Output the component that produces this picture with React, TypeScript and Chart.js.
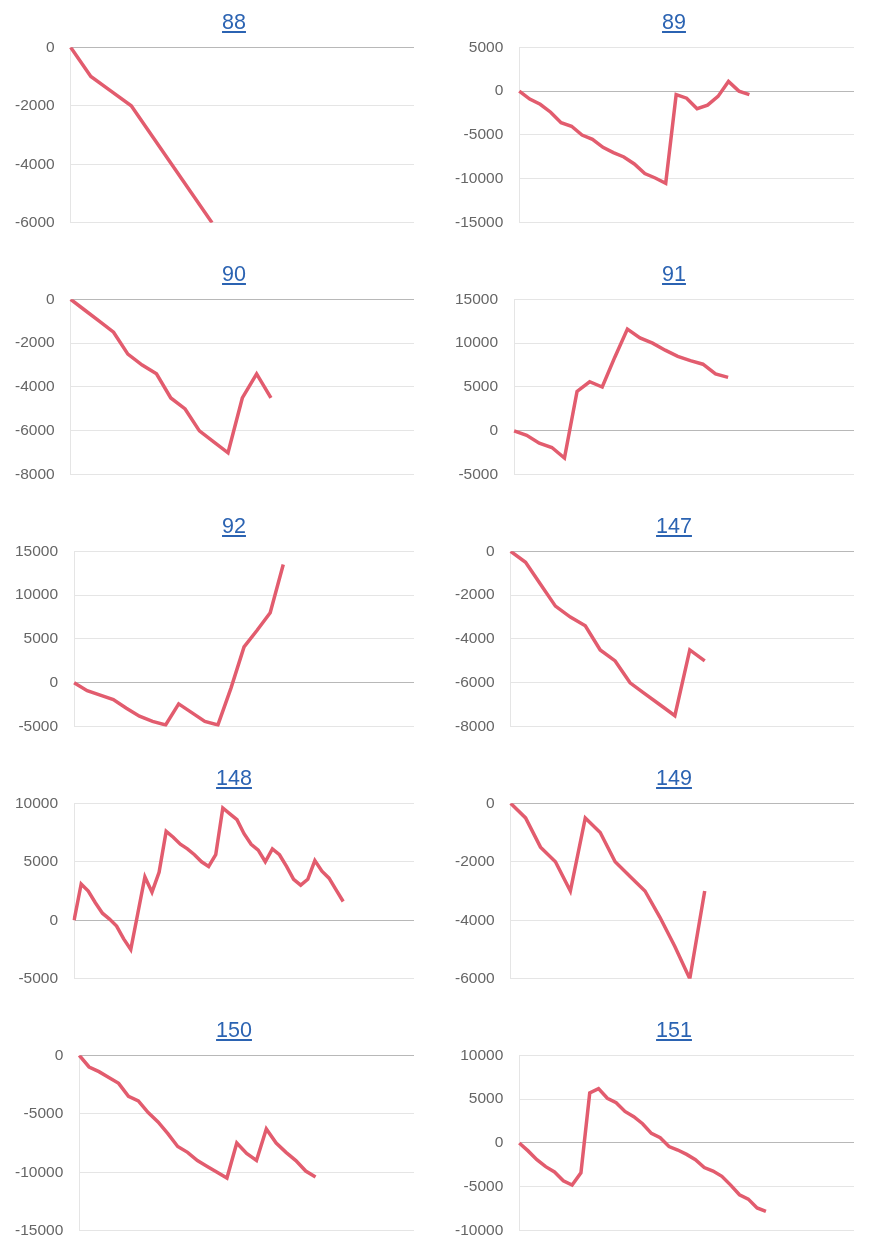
import React, { useEffect, useRef } from "react";
import { Chart, registerables } from "chart.js";

Chart.register(...registerables);

// ---- data ----
const titles = ["88", "89", "90", "91", "92", "147", "148", "149", "150", "151"];

const s88 = [0, -1000, -1500, -2000, -3000, -4000, -5000, -6000];
const s89 = [0, -900, -1500, -2400, -3600, -4000, -5000, -5500, -6400, -7000, -7500, -8300, -9400, -9900, -10500, -400, -800, -2000, -1600, -600, 1100, 0, -400];
const s90 = [0, -500, -1000, -1500, -2500, -3000, -3400, -4500, -5000, -6000, -6500, -7000, -4500, -3400, -4500];
const s91 = [0, -500, -1400, -1900, -3100, 4500, 5600, 5000, 8400, 11600, 10600, 10000, 9200, 8500, 8000, 7600, 6500, 6100];
const s92 = [0, -900, -1400, -1900, -2900, -3800, -4400, -4800, -2400, -3400, -4400, -4800, -600, 4100, 6000, 8000, 13500];
const s147 = [0, -500, -1500, -2500, -3000, -3400, -4500, -5000, -6000, -6500, -7000, -7500, -4500, -5000];
const s148 = [0, 3100, 2500, 1500, 600, 100, -500, -1600, -2500, 600, 3700, 2400, 4100, 7600, 7100, 6500, 6100, 5600, 5000, 4600, 5600, 9600, 9100, 8600, 7400, 6500, 6000, 5000, 6100, 5600, 4600, 3500, 3000, 3500, 5100, 4200, 3600, 2600, 1600];
const s149 = [0, -500, -1500, -2000, -3000, -500, -1000, -2000, -2500, -3000, -3900, -4900, -6000, -3000];
const s150 = [0, -1000, -1400, -1900, -2400, -3500, -3900, -4900, -5700, -6700, -7800, -8300, -9000, -9500, -10000, -10500, -7500, -8400, -9000, -6300, -7500, -8300, -9000, -9900, -10400];
const s151 = [0, -900, -1900, -2700, -3300, -4300, -4800, -3400, 5700, 6200, 5100, 4600, 3600, 3000, 2200, 1100, 600, -400, -800, -1300, -1900, -2800, -3200, -3800, -4800, -5900, -6400, -7400, -7800];

const seriesList = [s88, s89, s90, s91, s92, s147, s148, s149, s150, s151];

// number of x categories on each chart (line stops before the end)
const slotCounts = [18, 33, 25, 28, 27, 24, 49, 24, 35, 39];

// y-axis ranges and tick steps
const yMins = [-6000, -15000, -8000, -5000, -5000, -8000, -5000, -6000, -15000, -10000];
const yMaxs = [0, 5000, 0, 15000, 15000, 0, 10000, 0, 0, 10000];
const ySteps = [2000, 5000, 2000, 5000, 5000, 2000, 5000, 2000, 5000, 5000];

// ---- styles ----
const FONT = "'Liberation Sans', Arial, Helvetica, sans-serif";
const LINE_COLOR = "rgb(226, 92, 110)";
const LINK_COLOR = "#2b63b2";

function MiniChart({ idx }: { idx: number }) {
  const ref = useRef<HTMLCanvasElement>(null);
  useEffect(() => {
    const labels = Array.from({ length: slotCounts[idx] }, (_, i) => String(i + 1));
    const chart = new Chart(ref.current as HTMLCanvasElement, {
      type: "line",
      data: {
        labels,
        datasets: [
          {
            data: seriesList[idx],
            borderColor: LINE_COLOR,
            backgroundColor: LINE_COLOR,
            borderWidth: 3.5,
            pointRadius: 0,
            pointHoverRadius: 0,
            fill: false,
            tension: 0,
          },
        ],
      },
      options: {
        animation: false,
        responsive: false,
        devicePixelRatio: 1,
        events: [],
        layout: { padding: { left: 1, right: 4, top: 0, bottom: 0 } },
        plugins: { legend: { display: false }, tooltip: { enabled: false } },
        scales: {
          x: { display: false },
          y: {
            min: yMins[idx],
            max: yMaxs[idx],
            ticks: {
              stepSize: ySteps[idx],
              padding: 16,
              color: "#666",
              font: { family: FONT, size: 15.5 },
              callback: (v: any) => String(v),
            },
            grid: {
              drawTicks: false,
              color: (ctx: any) =>
                ctx.tick && ctx.tick.value === 0 ? "rgba(0,0,0,0.28)" : "rgba(0,0,0,0.1)",
              lineWidth: 1,
            },
            border: { display: true, color: "rgba(0,0,0,0.1)" },
          },
        },
      },
    });
    return () => chart.destroy();
  }, [idx]);
  return (
    <canvas
      ref={ref}
      width={420}
      height={226}
      style={{ display: "block", width: 420, height: 226, marginLeft: -16, marginTop: -13 }}
    />
  );
}

export default function App() {
  return (
    <div style={{ width: 876, height: 1228, overflow: "hidden", fontFamily: FONT }}>
      <div
        style={{
          display: "grid",
          gridTemplateColumns: "440px 440px",
          marginLeft: 6,
          width: 880,
        }}
      >
        {titles.map((t, i) => (
          <div key={t} style={{ height: 252 }}>
            <div
              style={{
                height: 27,
                boxSizing: "border-box",
                paddingTop: 2,
                textAlign: "center",
                fontSize: 21.5,
                lineHeight: "normal",
                position: "relative",
                zIndex: 1,
              }}
            >
              <a href="#" style={{ color: LINK_COLOR, textDecoration: "underline" }}>
                {t}
              </a>
            </div>
            <MiniChart idx={i} />
          </div>
        ))}
      </div>
    </div>
  );
}
